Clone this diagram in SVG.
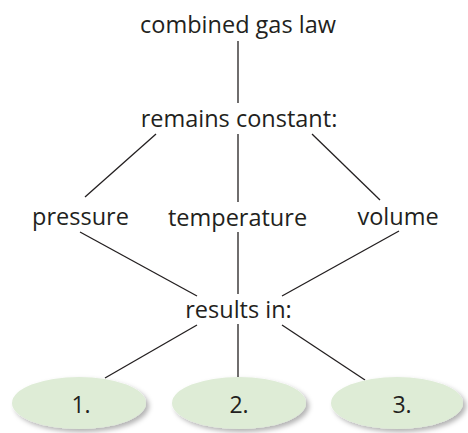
<svg xmlns="http://www.w3.org/2000/svg" width="468" height="433" viewBox="0 0 468 433">
  <style>
    .lbl { font-family: "Open Sans", "Noto Sans", "Liberation Sans", sans-serif; font-size: 23.5px; fill: #231f20; text-anchor: middle; }
    .num { font-family: "Open Sans", "Noto Sans", "Liberation Sans", sans-serif; font-size: 23px; fill: #231f20; text-anchor: middle; }
    .edge { stroke: #231f20; stroke-width: 1.3; fill: none; }
    .oval { fill: #deecd6; filter: url(#shade); }
  </style>
  <defs>
    <filter id="shade" x="-20%" y="-30%" width="140%" height="170%">
      <feGaussianBlur in="SourceAlpha" stdDeviation="2.5"/>
      <feOffset dx="3" dy="3" result="blur"/>
      <feFlood flood-color="#000" flood-opacity="0.3"/>
      <feComposite in2="blur" operator="in"/>
      <feMerge>
        <feMergeNode/>
        <feMergeNode in="SourceGraphic"/>
      </feMerge>
    </filter>
  </defs>
  <rect width="468" height="433" fill="#ffffff"/>

  <g id="connectors">
    <line class="edge" x1="238" y1="41" x2="238" y2="103"/>
    <line class="edge" x1="156" y1="134" x2="85" y2="197"/>
    <line class="edge" x1="238" y1="134" x2="238" y2="202"/>
    <line class="edge" x1="312" y1="134" x2="380" y2="200"/>
    <line class="edge" x1="80" y1="232" x2="197" y2="296"/>
    <line class="edge" x1="238" y1="232" x2="238" y2="294"/>
    <line class="edge" x1="399" y1="231" x2="282" y2="296"/>
    <line class="edge" x1="197" y1="325" x2="105" y2="378"/>
    <line class="edge" x1="238" y1="324" x2="238" y2="377"/>
    <line class="edge" x1="282" y1="325" x2="365" y2="380"/>
  </g>

  <g id="combined-gas-law"><text class="lbl" x="238" y="33">combined gas law</text></g>
  <g id="remains-constant"><text class="lbl" x="239" y="127">remains constant:</text></g>
  <g id="pressure"><text class="lbl" x="80.5" y="225">pressure</text></g>
  <g id="temperature"><text class="lbl" x="237.5" y="226">temperature</text></g>
  <g id="volume"><text class="lbl" x="398" y="225">volume</text></g>
  <g id="results-in"><text class="lbl" x="238.5" y="318">results in:</text></g>

  <g id="result-1">
    <ellipse class="oval" cx="79" cy="403" rx="67" ry="26"/>
    <text class="num" x="81" y="413">1.</text>
  </g>
  <g id="result-2">
    <ellipse class="oval" cx="239" cy="403" rx="67" ry="26"/>
    <text class="num" x="239" y="413">2.</text>
  </g>
  <g id="result-3">
    <ellipse class="oval" cx="397" cy="403" rx="66" ry="26"/>
    <text class="num" x="402" y="413">3.</text>
  </g>
</svg>
